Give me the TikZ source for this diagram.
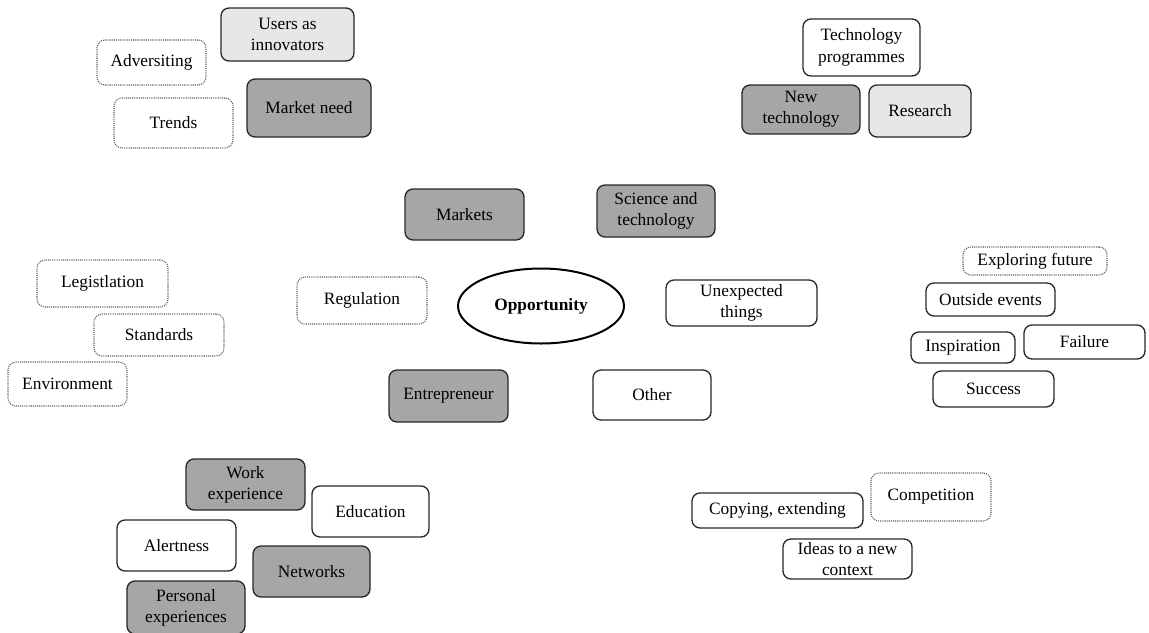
\documentclass[tikz,border=0pt]{standalone}
\usepackage{fontspec}
\setmainfont{Liberation Serif}
\usetikzlibrary{shapes.geometric}

\definecolor{darkfill}{RGB}{166,166,166}
\definecolor{lightfill}{RGB}{231,231,231}
\definecolor{edge}{RGB}{40,40,40}
\definecolor{dotedge}{RGB}{90,90,90}

% place a box by its corners (pixel units, y downward)
\newcommand\boxat[7]{%
  \node[#2, minimum width={(#5-#3)*0.75pt}, minimum height={(#6-#4)*0.75pt}]
    (#1) at ({(#3+#5)/2},{(#4+#6)/2}) {#7};}

\begin{document}
\begin{tikzpicture}[x=0.75pt, y=-0.75pt,
  base/.style={rectangle, rounded corners=6pt, inner sep=0pt, align=center,
    font=\fontsize{13}{16}\selectfont, text=black},
  solidbox/.style={base, draw=edge, line width=1pt, fill=white},
  darkbox/.style={base, draw=edge, line width=1pt, fill=darkfill},
  lightbox/.style={base, draw=edge, line width=1pt, fill=lightfill},
  dotbox/.style={base, draw=dotedge, line width=0.8pt, dash pattern=on 0.8pt off 0.8pt, fill=white},
  hub/.style={ellipse, draw=black, line width=1.5pt, inner sep=0pt,
    font=\fontsize{13}{16}\selectfont\bfseries}]
\useasboundingbox (0,0) rectangle (1149,632);

% market side
\boxat{users}{lightbox}{221}{8}{354}{61}{Users as\\innovators}
\boxat{adv}{dotbox}{97}{40}{206}{85}{Adversiting}
\boxat{trends}{dotbox}{114}{98}{233}{148}{Trends}
\boxat{need}{darkbox}{247}{79}{371}{137}{Market need}

% technology side
\boxat{techprog}{solidbox}{803}{19}{920}{76}{Technology\\programmes}
\boxat{newtech}{darkbox}{742}{85}{860}{134}{New\\technology}
\boxat{research}{lightbox}{869}{85}{971}{137}{Research}

% centre ring
\boxat{markets}{darkbox}{405}{189}{524}{240}{Markets}
\boxat{science}{darkbox}{597}{185}{715}{237}{Science and\\technology}
\boxat{regulation}{dotbox}{297}{277}{427}{324}{Regulation}
\node[hub, minimum width={166*0.75pt}, minimum height={75*0.75pt}] (opp) at (541,306) {Opportunity};
\boxat{unexp}{solidbox}{666}{280}{817}{326}{Unexpected\\things}
\boxat{entre}{darkbox}{389}{370}{508}{422}{Entrepreneur}
\boxat{other}{solidbox}{593}{370}{711}{420}{Other}

% regulation side
\boxat{legis}{dotbox}{37}{260}{168}{307}{Legistlation}
\boxat{standards}{dotbox}{94}{314}{224}{356}{Standards}
\boxat{env}{dotbox}{8}{362}{127}{406}{Environment}

% unexpected side
\boxat{future}{dotbox}{963}{247}{1107}{275}{Exploring future}
\boxat{outside}{solidbox}{926}{283}{1055}{316}{Outside events}
\boxat{inspir}{solidbox}{911}{332}{1015}{363}{Inspiration}
\boxat{failure}{solidbox}{1024}{325}{1145}{359}{Failure}
\boxat{success}{solidbox}{933}{371}{1054}{407}{Success}

% entrepreneur side
\boxat{work}{darkbox}{186}{459}{305}{510}{Work\\experience}
\boxat{educ}{solidbox}{312}{486}{429}{537}{Education}
\boxat{alert}{solidbox}{117}{520}{236}{571}{Alertness}
\boxat{netw}{darkbox}{253}{546}{370}{597}{Networks}
\boxat{personal}{darkbox}{127}{581}{245}{634}{Personal\\experiences}

% other side
\boxat{copy}{solidbox}{692}{493}{863}{528}{Copying, extending}
\boxat{compet}{dotbox}{871}{473}{991}{521}{Competition}
\boxat{ideas}{solidbox}{783}{539}{912}{579}{Ideas to a new\\context}
\end{tikzpicture}
\end{document}
